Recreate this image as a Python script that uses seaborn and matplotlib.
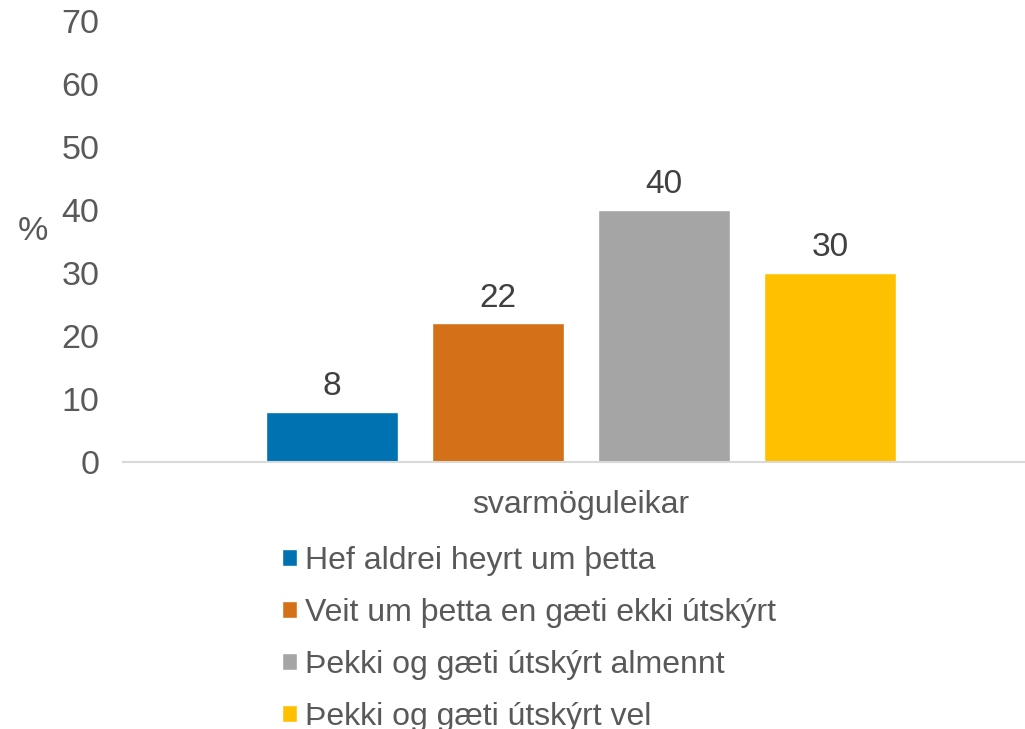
import pandas as pd
import seaborn as sns
import matplotlib.pyplot as plt

# data
category = ["svarmöguleikar"]
answers = [
    "Hef aldrei heyrt um þetta",
    "Veit um þetta en gæti ekki útskýrt",
    "Þekki og gæti útskýrt almennt",
    "Þekki og gæti útskýrt vel",
]
percent = [8, 22, 40, 30]
colors = ["#0072b2", "#d37018", "#a5a5a5", "#ffc000"]
y_ticks = [0, 10, 20, 30, 40, 50, 60, 70]


def main():
    sns.set_style("white")
    plt.rcParams["font.family"] = ["Liberation Sans", "DejaVu Sans"]

    df = pd.DataFrame({
        "cat": category * len(answers),
        "answer": answers,
        "pct": percent,
    })

    fig = plt.figure(figsize=(10.25, 7.29), dpi=100)
    ax = fig.add_axes([0.12, 0.3663, 0.8937, 0.605])

    sns.barplot(data=df, x="cat", y="pct", hue="answer", hue_order=answers,
                palette=colors, width=0.725, gap=0.21, saturation=1,
                ax=ax, legend=True)

    for c in ax.containers:
        ax.bar_label(c, fmt="%g", padding=7, fontsize=24, color="#404040")

    ax.set_ylim(0, 70)
    ax.set_yticks(y_ticks)
    ax.tick_params(axis="y", length=0, pad=17, labelsize=24.5, labelcolor="#595959")
    ax.tick_params(axis="x", length=0, pad=20, labelsize=23, labelcolor="#595959")
    ax.set_xlabel("")
    ax.set_ylabel("%", rotation=0, fontsize=24.5, color="#595959",
                  va="center", ha="center")
    ax.yaxis.set_label_coords(-0.098, 0.522)

    for side in ["top", "right", "left"]:
        ax.spines[side].set_visible(False)
    ax.spines["bottom"].set_color("#d9d9d9")
    ax.spines["bottom"].set_linewidth(1.5)

    handles, labels = ax.get_legend_handles_labels()
    ax.get_legend().remove()
    fig.legend(handles, labels, loc="upper left",
               bbox_to_anchor=(282 / 1025, (729 - 546) / 729),
               frameon=False, fontsize=23, labelcolor="#595959",
               handlelength=0.46, handleheight=0.46, handletextpad=0.27,
               labelspacing=0.69, borderpad=0, borderaxespad=0)

    fig.savefig("out.png", dpi=100)
    plt.close(fig)


if __name__ == "__main__":
    main()
